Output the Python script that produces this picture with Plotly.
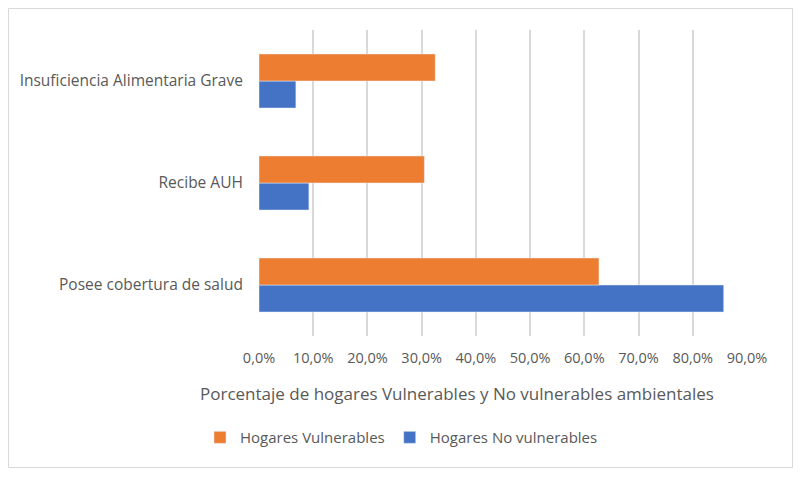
import plotly.graph_objects as go

# categories bottom to top, as in the reference
categorias = ["Posee cobertura de salud", "Recibe AUH", "Insuficiencia Alimentaria Grave"]
vulnerables = [0.627, 0.305, 0.325]
no_vulnerables = [0.857, 0.092, 0.068]

titulo_x = "Porcentaje de hogares Vulnerables y No vulnerables ambientales"

naranja = "#ED7D31"
azul = "#4472C4"
gris = "#595959"

W, H = 785, 460
L, T, PW, PH = 251, 22, 488, 306

fig = go.Figure()
# blue first so orange sits on top within each group
fig.add_trace(go.Bar(y=categorias, x=no_vulnerables, orientation="h",
                     name="Hogares No vulnerables", marker_color=azul))
fig.add_trace(go.Bar(y=categorias, x=vulnerables, orientation="h",
                     name="Hogares Vulnerables", marker_color=naranja))

fig.update_layout(
    width=W, height=H,
    barmode="group", bargap=0.47, bargroupgap=0,
    separators=",.",
    plot_bgcolor="white", paper_bgcolor="white",
    margin=dict(l=L, r=W - L - PW, t=T, b=H - T - PH),
    font=dict(family="Open Sans", size=15, color=gris),
    showlegend=True,
    legend=dict(orientation="h", x=0.292, xanchor="center", y=-0.278, yanchor="top",
                traceorder="reversed", font=dict(size=15, color=gris),
                itemwidth=30),
)
fig.update_xaxes(range=[0, 0.9], dtick=0.1, tickformat=".1%",
                 showgrid=True, gridcolor="#D9D9D9", gridwidth=1.5,
                 zeroline=False, showline=False,
                 ticks="outside", ticklen=9, tickcolor="rgba(0,0,0,0)",
                 tickfont=dict(size=14.5))
fig.update_yaxes(showgrid=False, showline=False,
                 ticks="outside", ticklen=12, tickcolor="rgba(0,0,0,0)",
                 tickfont=dict(size=15.5))

# axis title, placed where the reference puts it (not centred on the plot)
fig.add_annotation(text=titulo_x, xref="paper", yref="paper",
                   x=(457 - 8 - L) / PW, y=1 - (385 - T) / PH,
                   xanchor="center", yanchor="middle", showarrow=False,
                   font=dict(size=17, color=gris))

# outer chart border
fig.add_shape(type="rect", xref="paper", yref="paper",
              x0=-(L - 0.5) / PW, x1=(W - L - 0.5) / PW,
              y0=-(H - T - PH - 0.5) / PH, y1=1 + (T - 0.5) / PH,
              line=dict(color="#D9D9D9", width=1))

fig.write_html("out.html")
